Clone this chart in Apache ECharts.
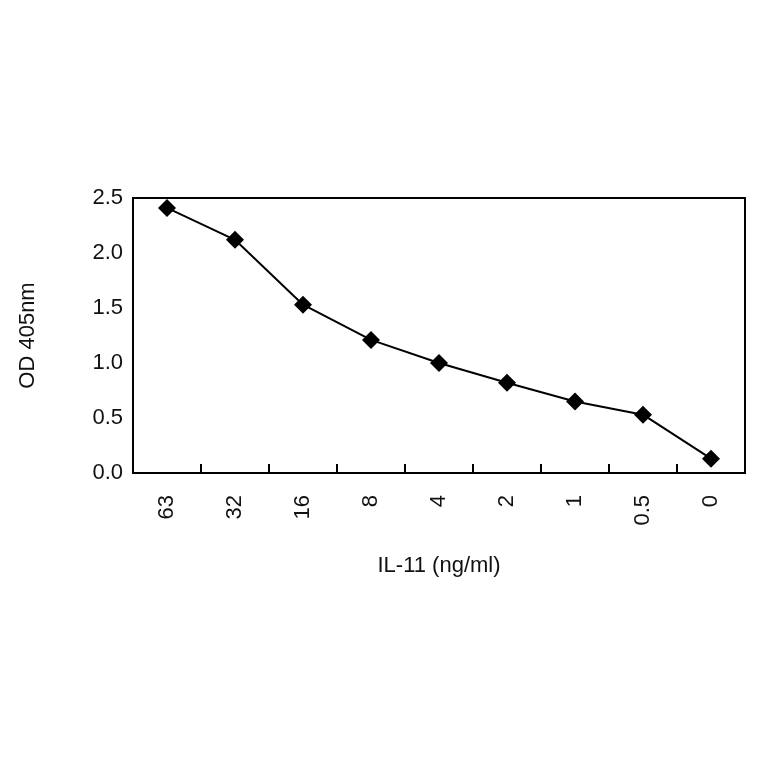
<!DOCTYPE html>
<html><head><meta charset="utf-8">
<script src="https://cdn.jsdelivr.net/npm/echarts@6/dist/echarts.min.js"></script>
<style>html,body{margin:0;padding:0;background:#fff}#c{width:764px;height:764px}</style>
</head><body><div id="c"></div>
<script>
const categories = ['63','32','16','8','4','2','1','0.5','0'];
const odValues = [2.41, 2.12, 1.53, 1.21, 1.00, 0.82, 0.65, 0.53, 0.13];
const yTicks = [0, 0.5, 1.0, 1.5, 2.0, 2.5];
const chart = echarts.init(document.getElementById('c'));
const font = 'Liberation Sans, Arial, sans-serif';
chart.setOption({
  animation: false,
  grid: {left: 133, right: 19, top: 198, bottom: 291, show: true, borderColor: '#000', borderWidth: 2},
  xAxis: {
    type: 'category', data: categories, boundaryGap: true,
    name: 'IL-11 (ng/ml)', nameLocation: 'middle', nameGap: 82,
    nameTextStyle: {fontFamily: font, fontSize: 22, color: '#111'},
    axisLine: {lineStyle: {color: '#000', width: 2}},
    axisTick: {show: true, interval: 0, inside: true, length: 9, lineStyle: {color: '#000', width: 2}},
    axisLabel: {rotate: 90, fontFamily: font, fontSize: 22, color: '#111', margin: 22}
  },
  yAxis: {
    type: 'value', min: 0, max: 2.5, interval: 0.5,
    name: 'OD 405nm', nameLocation: 'middle', nameGap: 94,
    nameTextStyle: {fontFamily: font, fontSize: 22, color: '#111'},
    axisLine: {show: true, lineStyle: {color: '#000', width: 2}},
    axisTick: {show: false},
    splitLine: {show: false},
    axisLabel: {fontFamily: font, fontSize: 22, color: '#111', margin: 10,
      formatter: v => yTicks.includes(v) ? v.toFixed(1) : ''}
  },
  series: [{
    type: 'line', data: odValues, symbol: 'diamond', symbolSize: 18,
    lineStyle: {color: '#000', width: 2}, itemStyle: {color: '#000'}
  }]
});
</script></body></html>
